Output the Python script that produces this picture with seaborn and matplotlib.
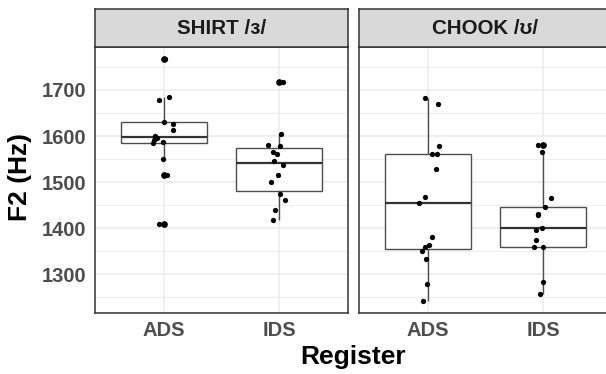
import numpy as np
import pandas as pd
import seaborn as sns
import matplotlib.pyplot as plt
from matplotlib.ticker import MultipleLocator

# ================== DATA ==================
vowels = ["SHIRT /ɜ/", "CHOOK /ʊ/"]
registers = ["ADS", "IDS"]

shirt_ads = [1767, 1685, 1678, 1631, 1627, 1614, 1601, 1595, 1591, 1588, 1584, 1551, 1515, 1410]
shirt_ids = [1718, 1604, 1580, 1578, 1565, 1562, 1546, 1538, 1515, 1501, 1474, 1462, 1439, 1417]
chook_ads = [1682, 1670, 1579, 1561, 1561, 1528, 1467, 1454, 1381, 1363, 1359, 1350, 1332, 1278, 1242]
chook_ids = [1581, 1565, 1466, 1446, 1430, 1428, 1401, 1397, 1374, 1359, 1359, 1283, 1256]

y_ticks = [1300, 1400, 1500, 1600, 1700]

rows = []
for vowel, reg, vals in [(vowels[0], "ADS", shirt_ads), (vowels[0], "IDS", shirt_ids),
                         (vowels[1], "ADS", chook_ads), (vowels[1], "IDS", chook_ids)]:
    for v in vals:
        rows.append({"Vowel": vowel, "Register": reg, "F2": v})
df = pd.DataFrame(rows)

# ================== STYLE ==================
sns.set_style("white")
plt.rcParams["font.family"] = ["Liberation Sans", "DejaVu Sans"]
plt.rcParams["font.weight"] = "bold"

W, H = 606, 374
fig = plt.figure(figsize=(W / 100, H / 100), dpi=100)

# panel geometry in pixels (left, right, top, bottom)
panel_w = 253
panels = [(95, 95 + panel_w), (359, 359 + panel_w)]
p_top, p_bot, s_top = 47, 313, 9

lo, hi = df["F2"].min(), df["F2"].max()
pad = 0.05 * (hi - lo)

np.random.seed(3)
for i, (vowel, (xl, xr)) in enumerate(zip(vowels, panels)):
    ax = fig.add_axes([xl / W, (H - p_bot) / H, (xr - xl) / W, (p_bot - p_top) / H])
    sub = df[df["Vowel"] == vowel]

    sns.boxplot(data=sub, x="Register", y="F2", order=registers, ax=ax,
                width=0.75, color="white", linecolor="#4D4D4D", linewidth=1.0,
                fliersize=3.8, showcaps=False,
                flierprops=dict(marker="o", markerfacecolor="black", markeredgecolor="black"),
                medianprops=dict(color="#333333", linewidth=1.6),
                zorder=2)
    sns.stripplot(data=sub, x="Register", y="F2", order=registers, ax=ax,
                  color="black", size=3.8, jitter=0.1, zorder=3)

    ax.set_xlim(-0.6, 1.6)
    ax.set_ylim(lo - pad, hi + pad)
    ax.set_yticks(y_ticks)
    ax.yaxis.set_minor_locator(MultipleLocator(50))
    ax.set_axisbelow(True)
    ax.grid(which="major", color="#EBEBEB", linewidth=1.1)
    ax.grid(which="minor", axis="y", color="#EBEBEB", linewidth=0.6)
    ax.tick_params(which="minor", length=0)
    ax.tick_params(which="major", length=4, width=1.0, color="#333333",
                   labelsize=14.5, labelcolor="#4D4D4D", direction="out", pad=2)
    for lab in ax.get_xticklabels() + ax.get_yticklabels():
        lab.set_fontweight("bold")
    for sp in ax.spines.values():
        sp.set_visible(True)
        sp.set_color("#333333")
        sp.set_linewidth(1.1)
    ax.set_xlabel("")
    ax.set_ylabel("")
    if i > 0:
        ax.tick_params(axis="y", which="both", left=False, labelleft=False)

    # facet strip
    sax = fig.add_axes([xl / W, (H - p_top) / H, (xr - xl) / W, (p_top - s_top) / H])
    sax.set_facecolor("#D9D9D9")
    sax.set_xticks([])
    sax.set_yticks([])
    for sp in sax.spines.values():
        sp.set_visible(True)
        sp.set_color("#333333")
        sp.set_linewidth(1.1)
    sax.text(0.5, 0.5, vowel, ha="center", va="center", fontsize=14.8,
             fontweight="bold", color="#1A1A1A", transform=sax.transAxes)

fig.text(20 / W, 1 - 177 / H, "F2 (Hz)", rotation=90, ha="center", va="center",
         fontsize=19, fontweight="bold", color="black")
fig.text(353.5 / W, 1 - 357 / H, "Register", ha="center", va="center",
         fontsize=19, fontweight="bold", color="black")

fig.savefig("out.png", dpi=100)
